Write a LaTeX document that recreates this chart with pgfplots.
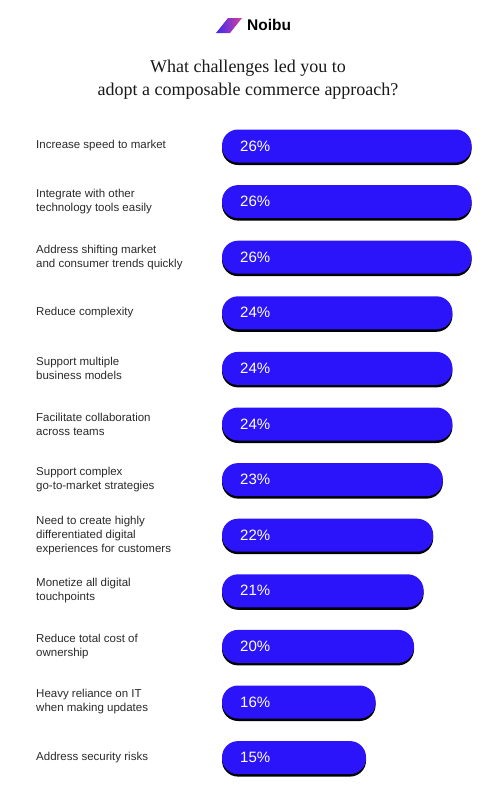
\documentclass[border=0pt]{standalone}
\usepackage{pgfplots}
\pgfplotsset{compat=1.18}
\usepackage{pgfplotstable}
\usepackage{fontspec}
\setmainfont{Liberation Serif}
\setsansfont{Liberation Sans}

\definecolor{barblue}{HTML}{2B14FA}
\definecolor{labelgray}{HTML}{2A2A2A}
\definecolor{logoblue}{HTML}{3A2BF0}
\definecolor{logopink}{HTML}{D8409A}

% row 0 is the top bar
\pgfplotstableread[col sep=comma]{
value,row
26,0
26,1
26,2
24,3
24,4
24,5
23,6
22,7
21,8
20,9
16,10
15,11
}\challenges

\tikzset{
    pct/.style={anchor=west, inner sep=0pt, text=white,
        font=\sffamily\fontsize{15}{17}\selectfont},
    cat/.style={anchor=west, align=left, inner sep=0pt, text=labelgray,
        font=\sffamily\fontsize{11.5}{14}\selectfont},
}

\begin{document}
\begin{tikzpicture}
\begin{axis}[
    scale only axis,
    width=496pt, height=785pt,
    xmin=-23.125, xmax=28.54,
    ymin=-2.626, ymax=11.493,
    y dir=reverse,
    hide axis,
    clip=false,
    xbar,
    bar width=33pt,
]
\path (rel axis cs:0,0) rectangle (rel axis cs:1,1);
% shadow under each bar
\addplot[fill=black, draw=none, bar shift=-2.5pt, rounded corners=16pt]
    table[x=value, y=row] {\challenges};
\addplot[fill=barblue, draw=none, bar shift=0pt, rounded corners=16pt]
    table[x=value, y=row] {\challenges};

% percentage labels inside the bars
\node[pct] at (axis cs:1.875,0) {26\%};
\node[pct] at (axis cs:1.875,1) {26\%};
\node[pct] at (axis cs:1.875,2) {26\%};
\node[pct] at (axis cs:1.875,3) {24\%};
\node[pct] at (axis cs:1.875,4) {24\%};
\node[pct] at (axis cs:1.875,5) {24\%};
\node[pct] at (axis cs:1.875,6) {23\%};
\node[pct] at (axis cs:1.875,7) {22\%};
\node[pct] at (axis cs:1.875,8) {21\%};
\node[pct] at (axis cs:1.875,9) {20\%};
\node[pct] at (axis cs:1.875,10) {16\%};
\node[pct] at (axis cs:1.875,11) {15\%};

% category labels
\node[cat] at (axis cs:-19.375,0) {Increase speed to market};
\node[cat] at (axis cs:-19.375,1) {Integrate with other\\technology tools easily};
\node[cat] at (axis cs:-19.375,2) {Address shifting market\\and consumer trends quickly};
\node[cat] at (axis cs:-19.375,3) {Reduce complexity};
\node[cat] at (axis cs:-19.375,4) {Support multiple\\business models};
\node[cat] at (axis cs:-19.375,5) {Facilitate collaboration\\across teams};
\node[cat] at (axis cs:-19.375,6) {Support complex\\go-to-market strategies};
\node[cat] at (axis cs:-19.375,7) {Need to create highly\\differentiated digital\\experiences for customers};
\node[cat] at (axis cs:-19.375,8) {Monetize all digital\\touchpoints};
\node[cat] at (axis cs:-19.375,9) {Reduce total cost of\\ownership};
\node[cat] at (axis cs:-19.375,10) {Heavy reliance on IT\\when making updates};
\node[cat] at (axis cs:-19.375,11) {Address security risks};

% title
\node[align=center, inner sep=0pt, text=black!90,
    font=\fontsize{18}{23}\selectfont]
    at (axis cs:2.708,-1.187)
    {What challenges led you to\\adopt a composable commerce approach?};

% logo
\shade[left color=logoblue, right color=logopink]
    (axis cs:-0.625,-2.032) -- (axis cs:0.625,-2.302)
    -- (axis cs:2.083,-2.302) -- (axis cs:0.833,-2.032) -- cycle;
\node[anchor=west, inner sep=0pt, text=black,
    font=\sffamily\bfseries\fontsize{15.5}{17}\selectfont]
    at (axis cs:2.604,-2.176) {Noibu};
\end{axis}
\end{tikzpicture}
\end{document}
